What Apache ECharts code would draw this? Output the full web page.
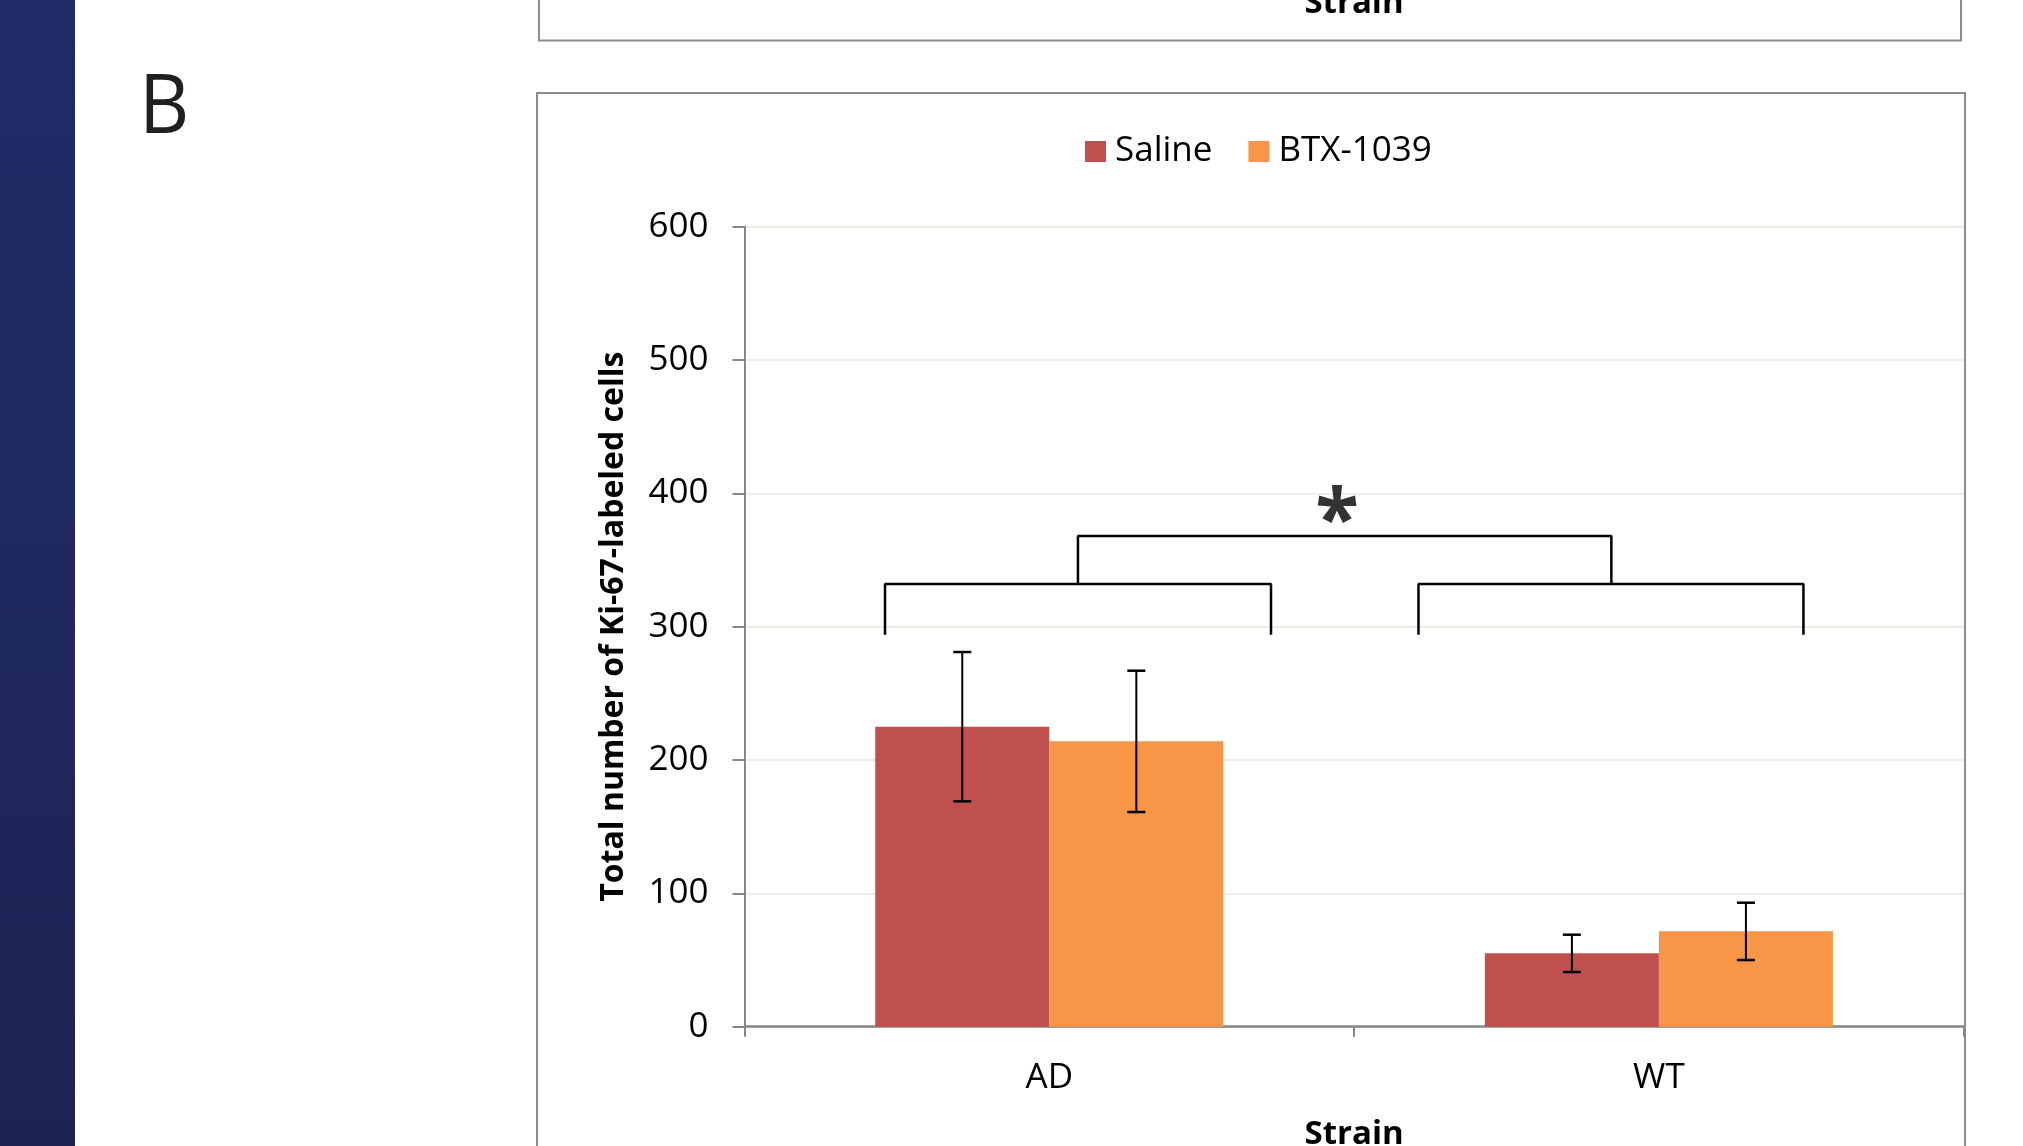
<!DOCTYPE html>
<html>
<head>
<meta charset="utf-8">
<script src="https://cdn.jsdelivr.net/npm/echarts@6/dist/echarts.min.js"></script>
<style>
html,body{margin:0;padding:0;background:#fff;}
#chart{width:2023px;height:1146px;}
</style>
</head>
<body>
<div id="chart"></div>
<script>
// ---- data ----
const categories = ['AD', 'WT'];
const seriesNames = ['Saline', 'BTX-1039'];
const salineMean = [225, 55];
const salineErr = [56, 14];
const btxMean = [214, 71.5];
const btxErr = [53, 21.5];
const yTicks = [0, 100, 200, 300, 400, 500, 600];
// significance brackets in (category-units, value) data space
const bracketAD = [[0.2305, 294], [0.2305, 332], [0.8637, 332], [0.8637, 294]];
const bracketWT = [[1.1056, 294], [1.1056, 332], [1.7371, 332], [1.7371, 294]];
const bracketTop = [[0.547, 332], [0.547, 368], [1.422, 368], [1.422, 332]];
const starPoint = [[0.972, 391]];

const colors = ['#C0504D', '#F79646'];
const FONT = 'Open Sans';
const GAP = 0.429;

const chart = echarts.init(document.getElementById('chart'), null, {renderer: 'canvas'});

function errData(means, errs, sign) {
  return means.map((m, i) => [i, m - errs[i], m + errs[i], sign]);
}

function renderErr(params, api) {
  const idx = api.value(0);
  const lo = api.value(1);
  const hi = api.value(2);
  const sign = api.value(3);
  const band = api.size([1, 0])[0];
  const off = sign * band * (1 - GAP) / 4;
  const pLo = api.coord([idx, lo]);
  const pHi = api.coord([idx, hi]);
  const x = pLo[0] + off;
  const cap = 9;
  return {
    type: 'group',
    children: [
      {type: 'line', shape: {x1: x, y1: pLo[1], x2: x, y2: pHi[1]}, style: {stroke: '#000', lineWidth: 2}},
      {type: 'line', shape: {x1: x - cap, y1: pLo[1], x2: x + cap, y2: pLo[1]}, style: {stroke: '#000', lineWidth: 2.5}},
      {type: 'line', shape: {x1: x - cap, y1: pHi[1], x2: x + cap, y2: pHi[1]}, style: {stroke: '#000', lineWidth: 2.5}}
    ]
  };
}

function bracketSeries(data) {
  return {
    type: 'line', xAxisIndex: 1, data: data, symbol: 'none', silent: true,
    lineStyle: {color: '#000', width: 2.5}, z: 5, animation: false
  };
}

const option = {
  animation: false,
  backgroundColor: '#fff',
  color: colors,
  textStyle: {fontFamily: FONT},
  grid: {left: 744.5, right: 59.3, top: 226.7, bottom: 119.3, containLabel: false, outerBoundsMode: 'none'},
  legend: {
    data: seriesNames,
    left: 1080, top: 129,
    itemWidth: 21, itemHeight: 21, itemGap: 36, icon: 'rect',
    textStyle: {fontFamily: FONT, fontSize: 35, color: '#000', padding: [0, 0, 0, 4]}
  },
  xAxis: [{
    type: 'category', data: categories,
    axisLine: {lineStyle: {color: '#868686', width: 2.5}},
    axisTick: {show: true, length: 10, lineStyle: {color: '#868686', width: 2}},
    axisLabel: {fontFamily: FONT, fontSize: 35, color: '#000', margin: 34},
    name: 'Strain', nameLocation: 'middle', nameGap: 91,
    nameTextStyle: {fontFamily: FONT, fontSize: 33, fontWeight: 'bold', color: '#000'},
    splitLine: {show: false}
  }, {
    type: 'value', min: 0, max: 2, show: false
  }],
  yAxis: {
    type: 'value', min: 0, max: 600, interval: 100,
    axisLine: {show: true, lineStyle: {color: '#868686', width: 2}},
    axisTick: {show: true, length: 12, lineStyle: {color: '#868686', width: 2}},
    axisLabel: {fontFamily: FONT, fontSize: 35, color: '#000', margin: 36,
      formatter: v => yTicks.includes(v) ? String(v) : ''},
    splitLine: {lineStyle: {color: '#EEEDE4', width: 2}},
    name: 'Total number of Ki-67-labeled cells', nameLocation: 'middle', nameGap: 115,
    nameTextStyle: {fontFamily: FONT, fontSize: 32, fontWeight: 'bold', color: '#000'}
  },
  series: [
    {name: seriesNames[0], type: 'bar', data: salineMean, barGap: '0%', barCategoryGap: (GAP * 100) + '%',
      itemStyle: {color: colors[0]}},
    {name: seriesNames[1], type: 'bar', data: btxMean, barGap: '0%', barCategoryGap: (GAP * 100) + '%',
      itemStyle: {color: colors[1]}},
    {type: 'custom', renderItem: renderErr, data: errData(salineMean, salineErr, -1),
      encode: {x: 0, y: [1, 2]}, z: 4, silent: true},
    {type: 'custom', renderItem: renderErr, data: errData(btxMean, btxErr, 1),
      encode: {x: 0, y: [1, 2]}, z: 4, silent: true},
    bracketSeries(bracketAD),
    bracketSeries(bracketWT),
    bracketSeries(bracketTop),
    {type: 'scatter', xAxisIndex: 1, data: starPoint, symbolSize: 1, itemStyle: {color: 'rgba(0,0,0,0)'},
      silent: true, z: 6,
      label: {show: true, position: 'inside', formatter: '*', fontFamily: FONT, fontWeight: 'bold',
        fontSize: 80, color: '#000', offset: [0, 18]}}
  ],
  graphic: [
    {type: 'rect', left: 0, top: 0, shape: {width: 75, height: 1146}, z: -10,
      style: {fill: new echarts.graphic.LinearGradient(0, 0, 0, 1, [{offset: 0, color: '#212B68'}, {offset: 1, color: '#1D2454'}])}},
    {type: 'rect', shape: {x: 537, y: 93, width: 1428, height: 1200}, z: -5,
      style: {fill: 'none', stroke: '#8C8C8C', lineWidth: 2}},
    {type: 'rect', shape: {x: 539, y: -100, width: 1422, height: 140.5}, z: -5,
      style: {fill: 'none', stroke: '#8C8C8C', lineWidth: 2}},
    {type: 'text', x: 1354, y: 20, z: 1,
      style: {text: 'Strain', fontFamily: FONT, fontSize: 33, fontWeight: 'bold', fill: '#000',
        textAlign: 'center', textVerticalAlign: 'bottom'}},
    {type: 'text', x: 139, y: 69, scaleX: 0.95, z: 1,
      style: {text: 'B', fontFamily: FONT, fontSize: 82, fill: '#231F20',
        textAlign: 'left', textVerticalAlign: 'top'}}
  ]
};
chart.setOption(option);
</script>
</body>
</html>
